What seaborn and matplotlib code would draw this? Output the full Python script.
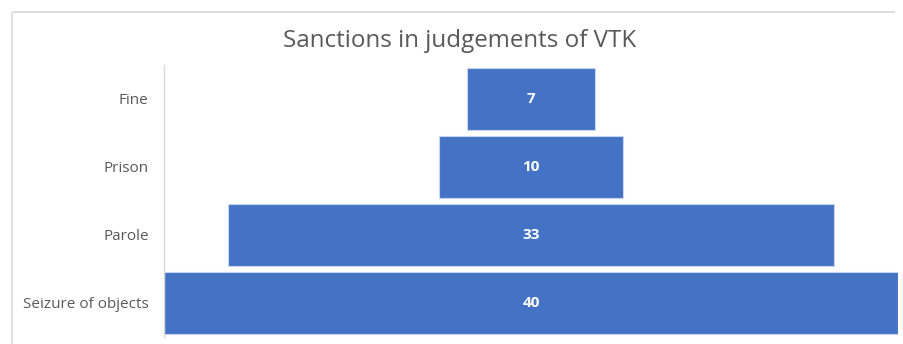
import matplotlib
matplotlib.use("Agg")
import matplotlib.pyplot as plt
import seaborn as sns
import pandas as pd
from matplotlib.lines import Line2D

categories = ["Fine", "Prison", "Parole", "Seizure of objects"]
values = [7, 10, 33, 40]
title = "Sanctions in judgements of VTK"

BAR = "#4472C4"
GREY_TXT = "#595959"
FRAME = "#D9D9D9"

sns.set_theme(style="white")
plt.rcParams["font.family"] = ["Open Sans", "DejaVu Sans"]

W, H = 904, 344
fig = plt.figure(figsize=(W / 100, H / 100), dpi=100)
fig.patch.set_facecolor("white")

# chart-area frame: left and top edges (the rest runs off the canvas)
fx, fy = 11.5 / W, 1 - 11.5 / H
fig.add_artist(Line2D([fx, fx], [0, fy], transform=fig.transFigure,
                      color=FRAME, linewidth=1.2, solid_capstyle="butt"))
fig.add_artist(Line2D([fx, 0.99], [fy, fy], transform=fig.transFigure,
                      color=FRAME, linewidth=1.2, solid_capstyle="butt"))

ax = fig.add_axes([164 / W, (H - 336.5) / H, 734 / W, 271.5 / H])

df = pd.DataFrame({"category": categories, "value": values})
sns.barplot(data=df, y="category", x="value", order=categories,
            color=BAR, saturation=1, width=0.915, orient="h",
            edgecolor="#C9D6EE", linewidth=0.8, ax=ax)

# centre each bar on zero to form the funnel
for patch, v in zip(ax.patches, values):
    patch.set_x(-v / 2)
    ax.text(0, patch.get_y() + patch.get_height() / 2, str(v),
            ha="center", va="center", color="white",
            fontsize=11, fontweight="bold")

vmax = max(values)
ax.set_xlim(-vmax / 2, vmax / 2)
ax.set_ylim(len(categories) - 0.5, -0.5)
ax.set_xlabel("")
ax.set_ylabel("")
ax.set_xticks([])
ax.tick_params(axis="y", length=0, pad=11, labelsize=11, labelcolor=GREY_TXT)
for side in ("top", "right", "bottom"):
    ax.spines[side].set_visible(False)
ax.spines["left"].set_color(FRAME)
ax.spines["left"].set_linewidth(1.0)

fig.text(460 / W, 1 - 41 / H, title, ha="center", va="center",
         fontsize=17.4, color=GREY_TXT)

fig.savefig("out.png", dpi=100)
